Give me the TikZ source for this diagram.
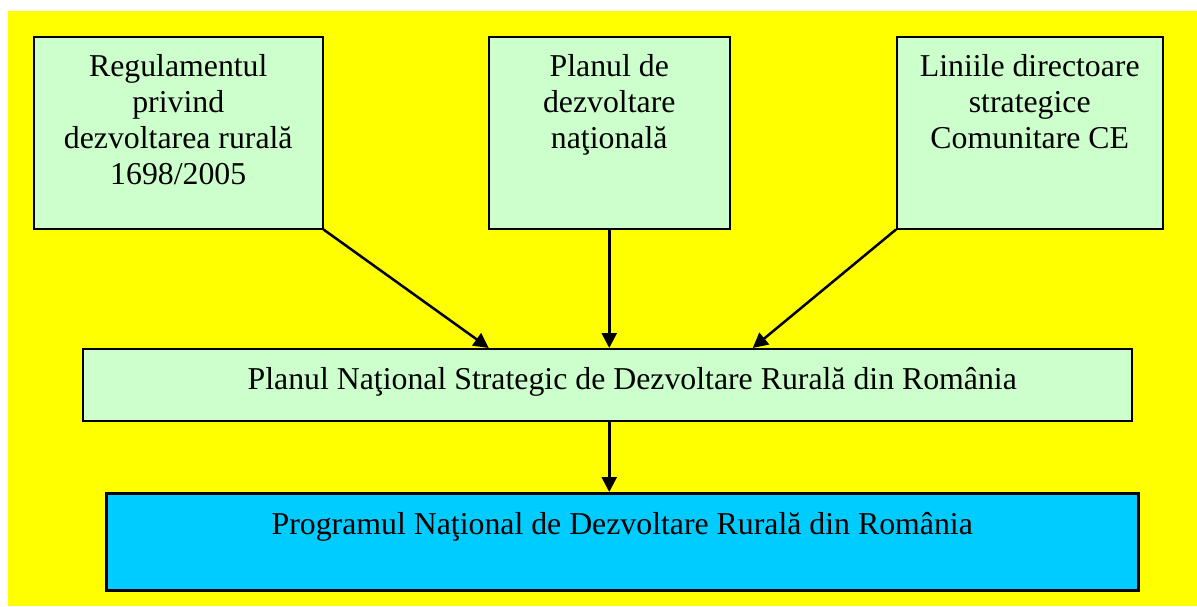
\documentclass[tikz,border=0pt]{standalone}
\usepackage{fontspec}
\setmainfont{Liberation Serif}
\usetikzlibrary{arrows.meta,calc}
\definecolor{bgyellow}{HTML}{FFFF00}
\definecolor{boxgreen}{HTML}{CCFFCC}
\definecolor{boxcyan}{HTML}{00CCFF}
\tikzset{
  gbox/.style={draw=black, fill=boxgreen, line width=1.5pt, inner sep=0pt, anchor=north west},
  cbox/.style={draw=black, fill=boxcyan, line width=2.5pt, inner sep=0pt, anchor=north west},
  conn/.style={draw=black, line width=2.5pt, -{Triangle[length=15pt,width=15pt]}, shorten >=0pt}
}
\newcommand{\bigtxt}{\fontsize{31.8}{36}\selectfont}
\begin{document}
\begin{tikzpicture}[x=1pt,y=-1pt]
\useasboundingbox (0,0) rectangle (1197,606);
\fill[bgyellow] (8,11) rectangle (1197,606);
\node[gbox] (b1) at (33,36) {\parbox[t][192pt][t]{289pt}{\bigtxt\centering\rule{0pt}{40pt}Regulamentul\\privind\\dezvoltarea rurală\\1698/2005}};
\node[gbox] (b2) at (488,36) {\parbox[t][192pt][t]{241pt}{\bigtxt\centering\rule{0pt}{40pt}Planul de\\dezvoltare\\naţională}};
\node[gbox] (b3) at (896,36) {\parbox[t][192pt][t]{266pt}{\bigtxt\centering\rule{0pt}{40pt}Liniile directoare\\strategice\\Comunitare CE}};
\node[gbox] (mid) at (82,348) {\parbox[t][72pt][t]{1049pt}{\bigtxt\centering\rule{0pt}{41pt}\hspace*{50pt}Planul Naţional Strategic de Dezvoltare Rurală din România}};
\node[cbox] (prog) at (105,492) {\parbox[t][97pt][t]{1032pt}{\bigtxt\centering\rule{0pt}{41pt}Programul Naţional de Dezvoltare Rurală din România}};
\draw[conn] (b1.south east) -- ([xshift=-118.5pt]mid.north);
\draw[conn] (b2.south) -- (b2.south |- mid.north);
\draw[conn] (b3.south west) -- ([xshift=145.5pt]mid.north);
\draw[conn] (b2.south |- mid.south) -- (b2.south |- prog.north);
\end{tikzpicture}
\end{document}
